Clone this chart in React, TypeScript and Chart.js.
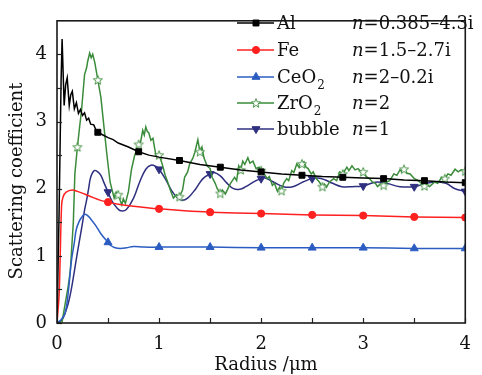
import React, { useEffect, useRef } from 'react';
import { Chart, registerables } from 'chart.js';
import { drawPoint } from 'chart.js/helpers';

Chart.register(...registerables);

// ---------- data ----------
const alX = [0, 0.02, 0.04, 0.05, 0.07, 0.085, 0.1, 0.12, 0.135, 0.15, 0.17, 0.19, 0.21, 0.23, 0.25, 0.27, 0.29, 0.31, 0.33, 0.36, 0.38, 0.4, 0.45, 0.5, 0.55, 0.6, 0.7, 0.8, 0.9, 1.0, 1.2, 1.4, 1.6, 1.8, 2.0, 2.2, 2.4, 2.6, 2.8, 3.0, 3.2, 3.4, 3.6, 3.8, 4.0];
const alY = [0, 1.6, 3.6, 4.23, 3.24, 3.55, 3.65, 3.24, 3.4, 3.45, 3.19, 3.28, 3.12, 3.18, 3.09, 3.13, 3.02, 3.05, 2.96, 2.95, 2.88, 2.84, 2.8, 2.76, 2.73, 2.68, 2.62, 2.55, 2.5, 2.47, 2.42, 2.36, 2.32, 2.28, 2.25, 2.22, 2.2, 2.18, 2.17, 2.16, 2.15, 2.13, 2.12, 2.1, 2.09];
const alMarks = [0.4, 0.8, 1.2, 1.6, 2.0, 2.4, 2.8, 3.2, 3.6, 4.0];

const feX = [0, 0.02, 0.03, 0.045, 0.06, 0.09, 0.15, 0.2, 0.27, 0.35, 0.42, 0.5, 0.6, 0.75, 1.0, 1.25, 1.5, 2.0, 2.5, 3.0, 3.5, 4.0];
const feY = [0, 0.4, 0.9, 1.75, 1.88, 1.95, 1.98, 1.96, 1.92, 1.87, 1.83, 1.8, 1.77, 1.74, 1.7, 1.67, 1.65, 1.63, 1.61, 1.6, 1.58, 1.57];
const feMarks = [0.5, 1.0, 1.5, 2.0, 2.5, 3.0, 3.5, 4.0];

const ceX = [0, 0.04, 0.08, 0.11, 0.14, 0.17, 0.19, 0.22, 0.24, 0.27, 0.3, 0.33, 0.38, 0.43, 0.5, 0.53, 0.57, 0.62, 0.68, 0.75, 0.85, 1.0, 1.5, 2.0, 2.5, 3.0, 3.5, 4.0];
const ceY = [0, 0.05, 0.15, 0.45, 0.91, 1.2, 1.4, 1.52, 1.57, 1.62, 1.6, 1.55, 1.45, 1.33, 1.2, 1.15, 1.12, 1.11, 1.12, 1.14, 1.13, 1.13, 1.13, 1.12, 1.12, 1.12, 1.11, 1.11];
const ceMarks = [0.5, 1.0, 1.5, 2.0, 2.5, 3.0, 3.5, 4.0];

const zrX = [0, 0.05, 0.08, 0.11, 0.13, 0.16, 0.175, 0.2, 0.22, 0.24, 0.27, 0.29, 0.3, 0.32, 0.335, 0.35, 0.37, 0.4, 0.43, 0.46, 0.49, 0.52, 0.56, 0.58, 0.6, 0.62, 0.635, 0.65, 0.67, 0.7, 0.73, 0.76, 0.8, 0.82, 0.84, 0.855, 0.87, 0.885, 0.9, 0.92, 0.94, 0.97, 1.0, 1.03, 1.06, 1.08, 1.11, 1.14, 1.17, 1.2, 1.23, 1.25, 1.28, 1.3, 1.33, 1.35, 1.38, 1.4, 1.42, 1.44, 1.47, 1.5, 1.52, 1.55, 1.57, 1.6, 1.62, 1.65, 1.68, 1.7, 1.74, 1.76, 1.78, 1.8, 1.82, 1.84, 1.87, 1.89, 1.92, 1.95, 1.98, 2.0, 2.03, 2.06, 2.08, 2.11, 2.13, 2.16, 2.18, 2.2, 2.22, 2.25, 2.27, 2.3, 2.32, 2.35, 2.37, 2.4, 2.42, 2.44, 2.46, 2.49, 2.51, 2.54, 2.57, 2.6, 2.62, 2.64, 2.67, 2.71, 2.74, 2.77, 2.8, 2.84, 2.86, 2.89, 2.92, 2.95, 2.98, 3.0, 3.03, 3.06, 3.09, 3.12, 3.14, 3.17, 3.2, 3.23, 3.26, 3.28, 3.3, 3.33, 3.36, 3.38, 3.4, 3.43, 3.46, 3.5, 3.53, 3.57, 3.6, 3.62, 3.65, 3.7, 3.73, 3.77, 3.8, 3.83, 3.86, 3.9, 3.93, 3.96, 4.0];
const zrY = [0, 0.02, 0.29, 0.55, 0.77, 1.5, 2.22, 2.62, 2.9, 3.16, 3.7, 3.8, 3.89, 4.02, 3.95, 4.0, 3.88, 3.62, 3.36, 2.92, 2.49, 2.1, 1.86, 1.95, 1.91, 1.82, 1.76, 1.85, 1.78, 1.96, 2.29, 2.49, 2.66, 2.7, 2.87, 2.8, 2.92, 2.85, 2.83, 2.72, 2.75, 2.49, 2.5, 2.37, 2.2, 2.12, 1.98, 1.86, 1.91, 1.88, 1.98, 2.17, 2.25, 2.37, 2.45, 2.54, 2.73, 2.55, 2.62, 2.46, 2.34, 2.3, 2.17, 2.08, 2.0, 1.93, 1.98, 1.92, 2.02, 2.08, 2.17, 2.12, 2.34, 2.28, 2.41, 2.36, 2.46, 2.38, 2.41, 2.3, 2.32, 2.27, 2.22, 2.15, 2.18, 2.05, 2.08, 1.96, 2.02, 1.97, 2.08, 2.15, 2.12, 2.27, 2.24, 2.37, 2.32, 2.37, 2.4, 2.32, 2.3, 2.22, 2.25, 2.15, 2.1, 2.03, 2.07, 2.02, 2.1, 2.15, 2.12, 2.25, 2.22, 2.32, 2.27, 2.34, 2.28, 2.3, 2.25, 2.25, 2.18, 2.15, 2.1, 2.08, 2.03, 2.07, 2.05, 2.1, 2.12, 2.17, 2.22, 2.2, 2.28, 2.25, 2.29, 2.23, 2.22, 2.15, 2.13, 2.08, 2.04, 2.06, 2.03, 2.1, 2.08, 2.17, 2.15, 2.22, 2.2, 2.29, 2.25, 2.28, 2.26];
const zrMarks = [0.2, 0.4, 0.6, 0.8, 1.0, 1.2, 1.4, 1.6, 1.8, 2.0, 2.2, 2.4, 2.6, 2.8, 3.0, 3.2, 3.4, 3.6, 3.8, 4.0];

const buX = [0, 0.05, 0.08, 0.11, 0.14, 0.17, 0.2, 0.24, 0.27, 0.29, 0.31, 0.33, 0.365, 0.4, 0.43, 0.46, 0.5, 0.54, 0.59, 0.625, 0.68, 0.75, 0.81, 0.87, 0.92, 0.97, 1.0, 1.06, 1.12, 1.17, 1.22, 1.28, 1.36, 1.43, 1.5, 1.54, 1.6, 1.66, 1.73, 1.79, 1.85, 1.95, 2.0, 2.04, 2.12, 2.22, 2.31, 2.41, 2.5, 2.56, 2.63, 2.7, 2.79, 2.89, 3.0, 3.08, 3.14, 3.23, 3.36, 3.5, 3.62, 3.71, 3.81, 3.9, 4.0];
const buY = [0, 0.05, 0.15, 0.29, 0.5, 0.77, 1.05, 1.4, 1.68, 1.83, 2.0, 2.17, 2.27, 2.25, 2.2, 2.09, 1.95, 1.81, 1.71, 1.67, 1.69, 1.86, 2.1, 2.29, 2.35, 2.33, 2.29, 2.15, 1.98, 1.88, 1.83, 1.86, 2.0, 2.15, 2.22, 2.24, 2.19, 2.09, 2.0, 1.99, 2.03, 2.12, 2.15, 2.16, 2.1, 2.03, 2.03, 2.1, 2.15, 2.16, 2.13, 2.08, 2.03, 2.03, 2.04, 2.08, 2.1, 2.08, 2.03, 2.03, 2.08, 2.1, 2.08, 2.0, 1.96];
const buMarks = [0.5, 1.0, 1.5, 2.0, 2.5, 3.0, 3.5, 4.0];

const xTickValues = [0, 0.5, 1, 1.5, 2, 2.5, 3, 3.5, 4];
const yTickValues = [0, 0.5, 1, 1.5, 2, 2.5, 3, 3.5, 4];

const seriesNames = ['Al', 'Fe', 'CeO', 'ZrO', 'bubble'];
const seriesSubs = ['', '', '2', '2', ''];
const seriesIndex = ['=0.385–4.3i', '=1.5–2.7i', '=2–0.2i', '=2', '=1'];
const seriesColors = ['#000000', '#ff2020', '#2b5cc2', '#3a8b3a', '#2f2f80'];

const FONT = '"DejaVu Serif", "Liberation Serif", serif';

const pts = (xs: number[], ys: number[]) => xs.map((x, i) => ({ x, y: ys[i] }));
const isMark = (x: number, marks: number[]) => marks.some((m) => Math.abs(m - x) < 1e-6);

function makeStar(color: string) {
  const c = document.createElement('canvas');
  c.width = 12;
  c.height = 12;
  const g = c.getContext('2d')!;
  g.beginPath();
  for (let i = 0; i < 10; i++) {
    const r = i % 2 === 0 ? 4.8 : 2.0;
    const a = -Math.PI / 2 + (i * Math.PI) / 5;
    const px = 6 + r * Math.cos(a);
    const py = 6.4 + r * Math.sin(a);
    if (i === 0) g.moveTo(px, py);
    else g.lineTo(px, py);
  }
  g.closePath();
  g.fillStyle = '#ffffff';
  g.fill();
  g.lineWidth = 0.9;
  g.strokeStyle = color;
  g.stroke();
  return c;
}

export default function App() {
  const ref = useRef<HTMLCanvasElement | null>(null);

  useEffect(() => {
    if (!ref.current) return;
    const star = makeStar(seriesColors[3]);
    const styles: any[] = ['rect', 'circle', 'triangle', star, 'triangle'];
    const rotations = [0, 0, 0, 0, 180];
    const radii = [4.2, 3.6, 4.6, 5, 4.6];
    const xsAll = [alX, feX, ceX, zrX, buX];
    const ysAll = [alY, feY, ceY, zrY, buY];
    const marksAll = [alMarks, feMarks, ceMarks, zrMarks, buMarks];
    const tensions = [0, 0.3, 0.4, 0, 0.4];

    const datasets = seriesNames.map((name, i) => ({
      label: name + seriesSubs[i],
      data: pts(xsAll[i], ysAll[i]),
      borderColor: seriesColors[i],
      backgroundColor: seriesColors[i],
      borderWidth: 1.5,
      tension: tensions[i],
      pointStyle: styles[i],
      pointRotation: rotations[i],
      pointBackgroundColor: seriesColors[i],
      pointBorderColor: seriesColors[i],
      pointBorderWidth: 1,
      pointRadius: (c: any) => (c.raw && isMark(c.raw.x, marksAll[i]) ? radii[i] : 0),
      pointHoverRadius: 0,
    }));

    const decor = {
      id: 'decor',
      afterDraw(chart: any) {
        const { ctx, chartArea: a, scales } = chart;
        ctx.save();
        ctx.strokeStyle = '#222';
        ctx.lineWidth = 1.2;
        xTickValues.forEach((v) => {
          const px = Math.round(scales.x.getPixelForValue(v)) + 0.5;
          ctx.beginPath();
          ctx.moveTo(px, a.bottom);
          ctx.lineTo(px, a.bottom - 5);
          ctx.stroke();
        });
        yTickValues.forEach((v) => {
          const py = Math.round(scales.y.getPixelForValue(v)) + 0.5;
          ctx.beginPath();
          ctx.moveTo(a.left, py);
          ctx.lineTo(a.left + 5, py);
          ctx.stroke();
        });
        ctx.lineWidth = 1.6;
        ctx.strokeStyle = '#1a1a1a';
        ctx.strokeRect(a.left, a.top, a.right - a.left, a.bottom - a.top);

        ctx.fillStyle = '#111';
        ctx.font = '18px ' + FONT;
        ctx.textAlign = 'center';
        ctx.textBaseline = 'alphabetic';
        ctx.fillText('Radius /μm', 266, 370);
        ctx.save();
        ctx.translate(22, 181);
        ctx.rotate(-Math.PI / 2);
        ctx.fillText('Scattering coefficient', 0, 0);
        ctx.restore();

        const rowY = [23, 50, 77, 103, 129];
        seriesNames.forEach((name, i) => {
          const y = rowY[i];
          ctx.strokeStyle = seriesColors[i];
          ctx.lineWidth = 1.5;
          ctx.beginPath();
          ctx.moveTo(237, y);
          ctx.lineTo(274, y);
          ctx.stroke();
          ctx.fillStyle = seriesColors[i];
          ctx.strokeStyle = seriesColors[i];
          ctx.lineWidth = 1;
          drawPoint(ctx, { pointStyle: styles[i], rotation: rotations[i], radius: radii[i], borderWidth: 1 }, 256, y);
          ctx.fillStyle = '#111';
          ctx.textAlign = 'left';
          ctx.textBaseline = 'alphabetic';
          ctx.font = '18px ' + FONT;
          ctx.fillText(name, 277, y + 6);
          if (seriesSubs[i]) {
            const w = ctx.measureText(name).width;
            ctx.font = '12px ' + FONT;
            ctx.fillText(seriesSubs[i], 277 + w + 1, y + 12);
          }
          ctx.font = 'italic 18px ' + FONT;
          ctx.fillText('n', 352, y + 6);
          const nw = ctx.measureText('n').width;
          ctx.font = '18px ' + FONT;
          ctx.fillText(seriesIndex[i], 352 + nw, y + 6);
        });
        ctx.restore();
      },
    };

    const chart = new Chart(ref.current, {
      type: 'line',
      data: { datasets },
      options: {
        animation: false,
        responsive: true,
        maintainAspectRatio: false,
        events: [],
        layout: { padding: { top: 12, right: 5, left: 0, bottom: 0 }, autoPadding: false },
        plugins: { legend: { display: false }, tooltip: { enabled: false } },
        scales: {
          x: {
            type: 'linear',
            min: 0,
            max: 4,
            grid: { display: false, drawTicks: false },
            border: { display: false },
            ticks: {
              stepSize: 0.5,
              autoSkip: false,
              maxRotation: 0,
              padding: 11,
              color: '#111',
              font: { family: FONT, size: 18 },
              callback: (v: any) => (Number.isInteger(v) ? String(v) : ''),
            },
            afterFit: (s: any) => {
              s.height = 52;
            },
          },
          y: {
            type: 'linear',
            min: 0,
            max: 4.5,
            grid: { display: false, drawTicks: false },
            border: { display: false },
            ticks: {
              stepSize: 0.5,
              autoSkip: false,
              padding: 10,
              color: '#111',
              font: { family: FONT, size: 18 },
              callback: (v: any) => (Number.isInteger(v) ? String(v) : ''),
            },
            afterFit: (s: any) => {
              s.width = 57;
            },
          },
        },
      },
      plugins: [decor],
    });
    return () => chart.destroy();
  }, []);

  return (
    <div style={{ position: 'fixed', left: 0, top: 0, width: 482, height: 375, background: '#fff' }}>
      <canvas ref={ref} />
    </div>
  );
}
